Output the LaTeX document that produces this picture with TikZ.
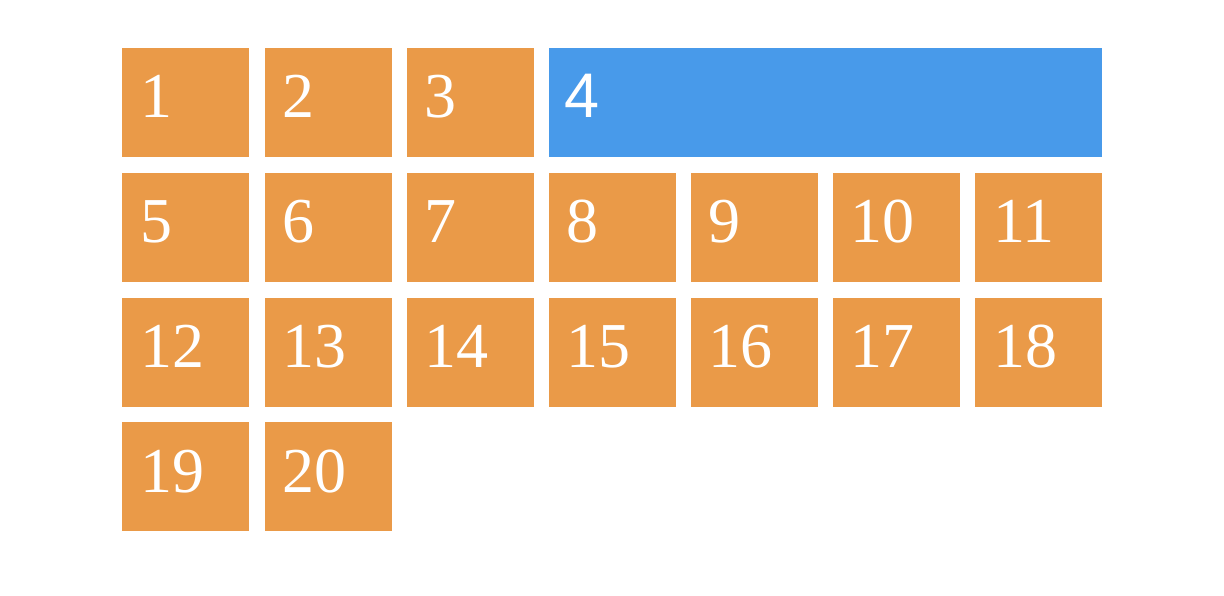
\documentclass[tikz,border=0pt]{standalone}
\usepackage{fontspec}
\newfontfamily\tileserif{Liberation Serif}
\newfontfamily\tilesans{Liberation Sans}
\definecolor{tileorange}{RGB}{234,154,72}
\definecolor{tileblue}{RGB}{72,154,234}

\begin{document}
\begin{tikzpicture}[
  x=1pt, y=-1pt,
  tile/.style={rectangle, fill=tileorange, text=white, anchor=north west,
    inner xsep=18pt, inner ysep=0pt, text width=91pt, align=left,
    text height=70pt, text depth=39pt,
    font=\tileserif\fontsize{64}{70}\selectfont},
  widetile/.style={tile, fill=tileblue, inner xsep=16pt, text width=521pt,
    font=\tilesans\fontsize{63}{70}\selectfont}
]
\useasboundingbox (0,0) rectangle (1224,595);

% First row
\node[tile] (t1) at (122,47.5) {1};
\node[tile] (t2) at (264.5,47.5) {2};
\node[tile] (t3) at (406.5,47.5) {3};
\node[widetile] (t4) at (548.5,47.5) {4};

% Second row
\node[tile] (t5) at (122,172.5) {5};
\node[tile] (t6) at (264.5,172.5) {6};
\node[tile] (t7) at (406.5,172.5) {7};
\node[tile] (t8) at (548.5,172.5) {8};
\node[tile] (t9) at (690.5,172.5) {9};
\node[tile] (t10) at (832.5,172.5) {10};
\node[tile] (t11) at (975,172.5) {11};

% Third row
\node[tile] (t12) at (122,297.5) {12};
\node[tile] (t13) at (264.5,297.5) {13};
\node[tile] (t14) at (406.5,297.5) {14};
\node[tile] (t15) at (548.5,297.5) {15};
\node[tile] (t16) at (690.5,297.5) {16};
\node[tile] (t17) at (832.5,297.5) {17};
\node[tile] (t18) at (975,297.5) {18};

% Last row
\node[tile] (t19) at (122,422) {19};
\node[tile] (t20) at (264.5,422) {20};

\end{tikzpicture}
\end{document}
